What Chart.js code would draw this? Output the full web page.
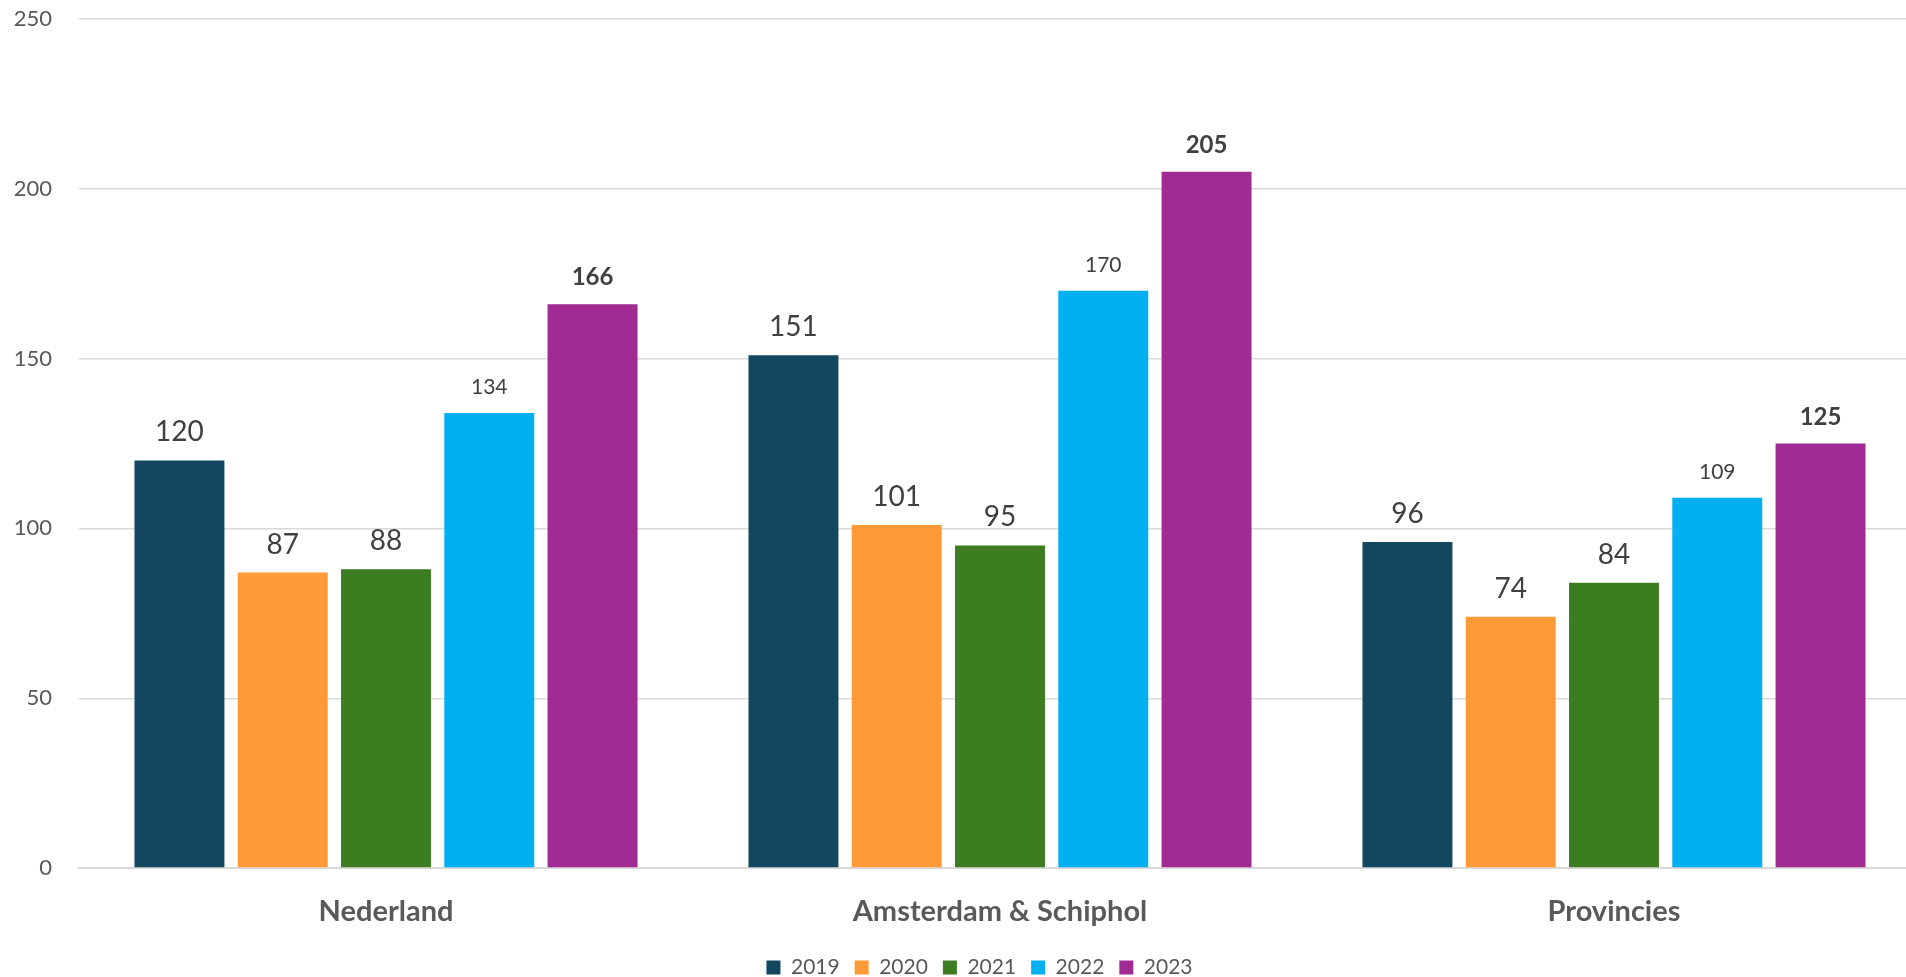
<!DOCTYPE html>
<html>
<head>
<meta charset="utf-8">
<script src="https://cdn.jsdelivr.net/npm/chart.js@4/dist/chart.umd.min.js"></script>
<style>
  html, body { margin: 0; padding: 0; background: #fff; overflow: hidden; }
  #wrap { width: 1921px; height: 988px; }
</style>
</head>
<body>
<div id="wrap"><canvas id="chart" width="1921" height="988"></canvas></div>
<script>
// categorieen en waarden per jaar
const categories = ["Nederland", "Amsterdam & Schiphol", "Provincies"];
const years = ["2019", "2020", "2021", "2022", "2023"];
const values2019 = [120, 151, 96];
const values2020 = [87, 101, 74];
const values2021 = [88, 95, 84];
const values2022 = [134, 170, 109];
const values2023 = [166, 205, 125];
const yTicks = [0, 50, 100, 150, 200, 250];

const series = [values2019, values2020, values2021, values2022, values2023];
const colors = ["#12475F", "#FF9A36", "#3C7D22", "#00B0F0", "#A02B93"];
// lettertype van de waardelabels per jaar
const labelFonts = [
  { size: 28, weight: "normal" },
  { size: 28, weight: "normal" },
  { size: 28, weight: "normal" },
  { size: 21, weight: "normal" },
  { size: 24, weight: "bold" },
];

const FONT = "Lato, 'Open Sans', sans-serif";

// waarden boven de staven tekenen
const valueLabels = {
  id: "valueLabels",
  afterDatasetsDraw(chart) {
    const ctx = chart.ctx;
    ctx.save();
    ctx.fillStyle = "#404040";
    ctx.textAlign = "center";
    ctx.textBaseline = "alphabetic";
    chart.data.datasets.forEach((ds, i) => {
      const meta = chart.getDatasetMeta(i);
      const f = labelFonts[i];
      ctx.font = f.weight + " " + f.size + "px " + FONT;
      meta.data.forEach((bar, j) => {
        ctx.fillText(String(ds.data[j]), bar.x, bar.y - 19);
      });
    });
    ctx.restore();
  },
};

// legenda iets naar rechts, zoals in het origineel
const legendShift = {
  id: "legendShift",
  afterLayout(chart) {
    if (chart.legend) {
      chart.legend.left += 19;
      chart.legend.right += 19;
    }
  },
};

new Chart(document.getElementById("chart"), {
  type: "bar",
  data: {
    labels: categories,
    datasets: series.map((data, i) => ({
      label: years[i],
      data: data,
      backgroundColor: colors[i],
      categoryPercentage: 0.841,
      barPercentage: 0.871,
    })),
  },
  options: {
    responsive: false,
    animation: false,
    devicePixelRatio: 1,
    layout: { padding: { top: 19, left: 0, right: 0, bottom: 0 } },
    plugins: {
      tooltip: { enabled: false },
      legend: {
        position: "bottom",
        labels: {
          boxWidth: 14,
          boxHeight: 14,
          padding: 15,
          color: "#595959",
          font: { family: FONT, size: 21 },
        },
      },
    },
    scales: {
      x: {
        grid: { display: false },
        border: { display: true, color: "#D9D9D9", width: 2 },
        ticks: {
          padding: 18,
          color: "#595959",
          font: { family: FONT, size: 29, weight: "bold" },
        },
        afterFit(scale) { scale.height = 74; },
      },
      y: {
        min: 0,
        max: 250,
        afterBuildTicks(scale) { scale.ticks = yTicks.map((v) => ({ value: v })); },
        grid: { color: "#D9D9D9", lineWidth: 1.4, drawTicks: false },
        border: { display: false },
        ticks: {
          padding: 27,
          color: "#595959",
          font: { family: FONT, size: 22 },
        },
        afterFit(scale) {
          scale.width = 79;
          scale.paddingTop = 0;
          scale.paddingBottom = 0;
        },
      },
    },
  },
  plugins: [valueLabels, legendShift],
});
</script>
</body>
</html>
